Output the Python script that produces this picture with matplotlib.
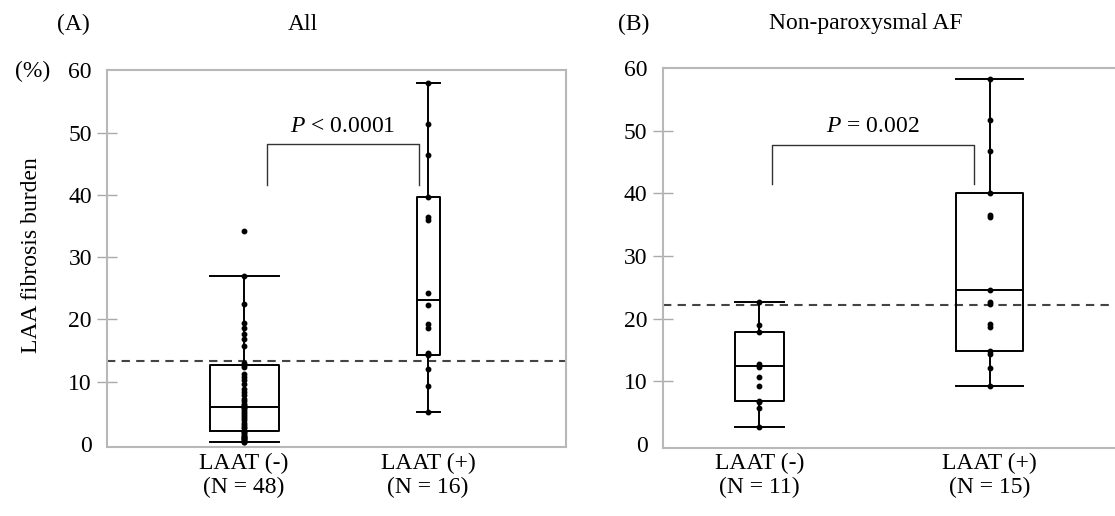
import numpy as np
import matplotlib
matplotlib.use("Agg")
import matplotlib.pyplot as plt

plt.rcParams['font.family'] = ['Liberation Serif', 'DejaVu Serif']
plt.rcParams['mathtext.fontset'] = 'custom'
plt.rcParams['mathtext.rm'] = 'Liberation Serif'
plt.rcParams['mathtext.it'] = 'Liberation Serif:italic'

# ---- data ----
groups = ['LAAT (-)', 'LAAT (+)']

# (A) All
all_n = [48, 16]
all_neg = [34.2, 27.0, 22.4, 19.4, 18.6, 17.7, 16.8, 15.7, 13.0, 12.7,
           12.4, 11.2, 10.7, 10.2, 9.7, 8.8, 8.3, 7.8, 7.3, 6.9, 6.5, 6.2, 6.0,
           5.9, 5.8, 5.5, 5.2, 4.8, 4.5, 4.1, 3.8, 3.4, 3.1, 2.8, 2.5, 2.1,
           1.9, 1.7, 1.5, 1.3, 1.1, 1.0, 0.9, 0.8, 0.6, 0.5, 0.4, 0.3]
all_pos = [57.9, 51.3, 46.4, 39.7, 36.4, 36.0, 24.3, 22.3, 19.2, 18.6,
           14.6, 14.5, 14.3, 12.0, 9.3, 5.2]
# whislo, q1, median, q3, whishi
all_neg_box = [0.3, 2.1, 6.0, 12.7, 27.0]
all_pos_box = [5.2, 14.3, 23.2, 39.7, 57.9]
all_cutoff = 13.4
all_p = r'$P$ < 0.0001'

# (B) Non-paroxysmal AF
np_n = [11, 15]
np_neg = [22.7, 18.9, 17.8, 12.8, 12.3, 10.7, 9.3, 6.9, 6.7, 5.7, 2.7]
np_pos = [58.2, 51.7, 46.7, 40.0, 36.6, 36.2, 24.5, 22.6, 22.3, 19.2,
          18.6, 14.8, 14.4, 12.1, 9.3]
np_neg_box = [2.7, 6.8, 12.4, 17.9, 22.7]
np_pos_box = [9.3, 14.9, 24.5, 40.0, 58.2]
np_cutoff = 22.1
np_p = r'$P$ = 0.002'

W, H = 1115, 516
FS = 17
fig = plt.figure(figsize=(W / 100, H / 100), dpi=100)


def px(x, y):
    return x / W, 1 - y / H


def panel(rect, xlim, ylim, n, points, boxes, cutoff, ptext, bracket):
    ax = fig.add_axes(rect)
    tot = sum(n)
    widths = [0.5 * k / tot for k in n]
    stats = []
    for g, b in zip(groups, boxes):
        stats.append(dict(whislo=b[0], q1=b[1], med=b[2], q3=b[3], whishi=b[4], label=g))
    ln = dict(color='black', linewidth=1.4)
    ax.bxp(stats, positions=[0, 1], widths=widths, capwidths=widths,
           showfliers=False, boxprops=ln, whiskerprops=ln, capprops=ln,
           medianprops=ln, manage_ticks=False)
    for i, vals in enumerate(points):
        ax.plot(np.full(len(vals), i), vals, 'o', ms=3.2, color='black', zorder=4)
    ax.axhline(cutoff, color='#444444', lw=1.5, ls=(0, (4, 3)), zorder=1)
    x0, x1, ylo, yhi = bracket
    ax.plot([x0, x0, x1, x1], [ylo, yhi, yhi, ylo], color='#333333', lw=1.0)
    ax.text((x0 + x1) / 2, yhi + 1.2, ptext, ha='center', va='bottom', fontsize=FS)
    ax.set_xlim(xlim)
    ax.set_ylim(ylim)
    ax.set_xticks([0, 1])
    ax.set_xticklabels(['%s\n(N = %d)' % (g, k) for g, k in zip(groups, n)],
                       fontsize=FS, linespacing=1.15)
    ax.tick_params(axis='x', length=0, pad=4)
    ax.set_yticks(range(0, 61, 10))
    ax.set_yticklabels([str(v) for v in range(0, 61, 10)], fontsize=FS)
    ax.tick_params(axis='y', direction='inout', length=13.7, width=1.0,
                   color='#aaaaaa', pad=4)
    ticks = ax.yaxis.get_major_ticks()
    ticks[0].tick1line.set_visible(False)
    ticks[-1].tick1line.set_visible(False)
    for s in ax.spines.values():
        s.set_color('#b8b8b8')
        s.set_linewidth(1.5)
    return ax


ax1 = panel([107 / W, 1 - 447.3 / H, 459 / W, 377 / H], (-0.745, 1.75), (-0.53, 59.6),
            all_n, [all_neg, all_pos], [all_neg_box, all_pos_box], all_cutoff, all_p,
            (0.127, 0.95, 41.6, 48.1))
ax2 = panel([662.5 / W, 1 - 447.5 / H, 470 / W, 380 / H], (-0.42, 1.62), (-0.56, 60.05),
            np_n, [np_neg, np_pos], [np_neg_box, np_pos_box], np_cutoff, np_p,
            (0.055, 0.93, 41.4, 47.7))

fig.text(*px(73, 24), '(A)', ha='center', va='center', fontsize=FS)
fig.text(*px(303, 24), 'All', ha='center', va='center', fontsize=FS)
fig.text(*px(634, 24), '(B)', ha='center', va='center', fontsize=FS)
fig.text(*px(866, 24), 'Non-paroxysmal AF', ha='center', va='center', fontsize=FS)
fig.text(*px(33, 71), '(%)', ha='center', va='center', fontsize=FS)
fig.text(*px(32, 255), 'LAA fibrosis burden', ha='center', va='center',
         rotation=90, fontsize=FS)

fig.savefig('out.png', dpi=100)
